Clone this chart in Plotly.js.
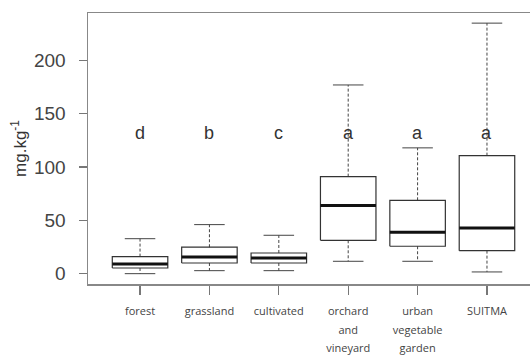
<!DOCTYPE html>
<html>
<head>
<meta charset="utf-8">
<script src="https://cdn.plot.ly/plotly-3.0.1.min.js"></script>
<style>html,body{margin:0;padding:0;background:#fff;}#chart{width:530px;height:356px;}</style>
</head>
<body>
<div id="chart"></div>
<script>
// Data
const categories = ["forest", "grassland", "cultivated", "orchard<br>and<br>vineyard", "urban<br>vegetable<br>garden", "SUITMA"];
const lowerWhisker = [0, 2.8, 2.8, 11.6, 11.6, 1.6];
const q1 = [5.3, 10, 10, 31.3, 25.7, 21.6];
const medians = [9, 15.7, 14.7, 64, 38.8, 42.9];
const q3 = [16, 24.8, 19.4, 91, 68.8, 110.7];
const upperWhisker = [32.8, 46, 36, 177, 118, 235];
const groupLetters = ["d", "b", "c", "a", "a", "a"];
const letterLevel = 132;
const yTicks = [0, 50, 100, 150, 200];

const positions = categories.map((c, i) => i + 1);
const halfBox = 0.4, halfCap = 0.22;

// small label text with wider line spacing
const tickText = categories.map(c => c.split("<br>").map(s => "<span style='font-size:11px'>" + s + "</span>").join("<br>"));

const boxX = [], boxY = [], medX = [], medY = [], whX = [], whY = [], capX = [], capY = [];
positions.forEach((p, i) => {
  boxX.push(p - halfBox, p + halfBox, p + halfBox, p - halfBox, p - halfBox, null);
  boxY.push(q1[i], q1[i], q3[i], q3[i], q1[i], null);
  medX.push(p - halfBox, p + halfBox, null);
  medY.push(medians[i], medians[i], null);
  whX.push(p, p, null, p, p, null);
  whY.push(q3[i], upperWhisker[i], null, q1[i], lowerWhisker[i], null);
  capX.push(p - halfCap, p + halfCap, null, p - halfCap, p + halfCap, null);
  capY.push(upperWhisker[i], upperWhisker[i], null, lowerWhisker[i], lowerWhisker[i], null);
});

const common = {type: "scatter", mode: "lines", hoverinfo: "skip", showlegend: false, connectgaps: false};
const traces = [
  Object.assign({}, common, {x: whX, y: whY, line: {color: "#444", width: 1, dash: "3px,2px"}}),
  Object.assign({}, common, {x: capX, y: capY, line: {color: "#444", width: 1}}),
  Object.assign({}, common, {x: boxX, y: boxY, line: {color: "#333", width: 1.2}}),
  Object.assign({}, common, {x: medX, y: medY, line: {color: "#111", width: 3}})
];

const annotations = positions.map((p, i) => ({
  x: p, y: letterLevel, xref: "x", yref: "y", text: groupLetters[i], showarrow: false,
  font: {family: "Liberation Sans, Arial, sans-serif", size: 18, color: "#333"}
}));

const layout = {
  width: 530, height: 356,
  margin: {l: 88, r: 0, t: 13, b: 72},
  paper_bgcolor: "#fff", plot_bgcolor: "#fff",
  showlegend: false,
  xaxis: {
    range: [0.25, 6.62], tickmode: "array", tickvals: positions, ticktext: tickText,
    showgrid: false, zeroline: false, showline: true, mirror: true, linecolor: "#888", linewidth: 1.5,
    ticks: "outside", ticklen: 9, tickcolor: "#777", tickwidth: 1.2, ticklabelstandoff: 4,
    tickfont: {family: "Open Sans, sans-serif", size: 14, color: "#444"}
  },
  yaxis: {
    range: [-9.7, 244.5], tickmode: "array", tickvals: yTicks,
    showgrid: false, zeroline: false, showline: true, linecolor: "#888", linewidth: 1.5,
    ticks: "outside", ticklen: 8, tickcolor: "#777", tickwidth: 1.2, ticklabelstandoff: 9,
    tickfont: {family: "Liberation Sans, Arial, sans-serif", size: 19, color: "#444"},
    title: {text: "mg.kg<sup>-1</sup>", font: {family: "Liberation Sans, Arial, sans-serif", size: 17, color: "#333"}, standoff: 3}
  },
  annotations: annotations
};

Plotly.newPlot("chart", traces, layout, {displayModeBar: false, staticPlot: true});
</script>
</body>
</html>
